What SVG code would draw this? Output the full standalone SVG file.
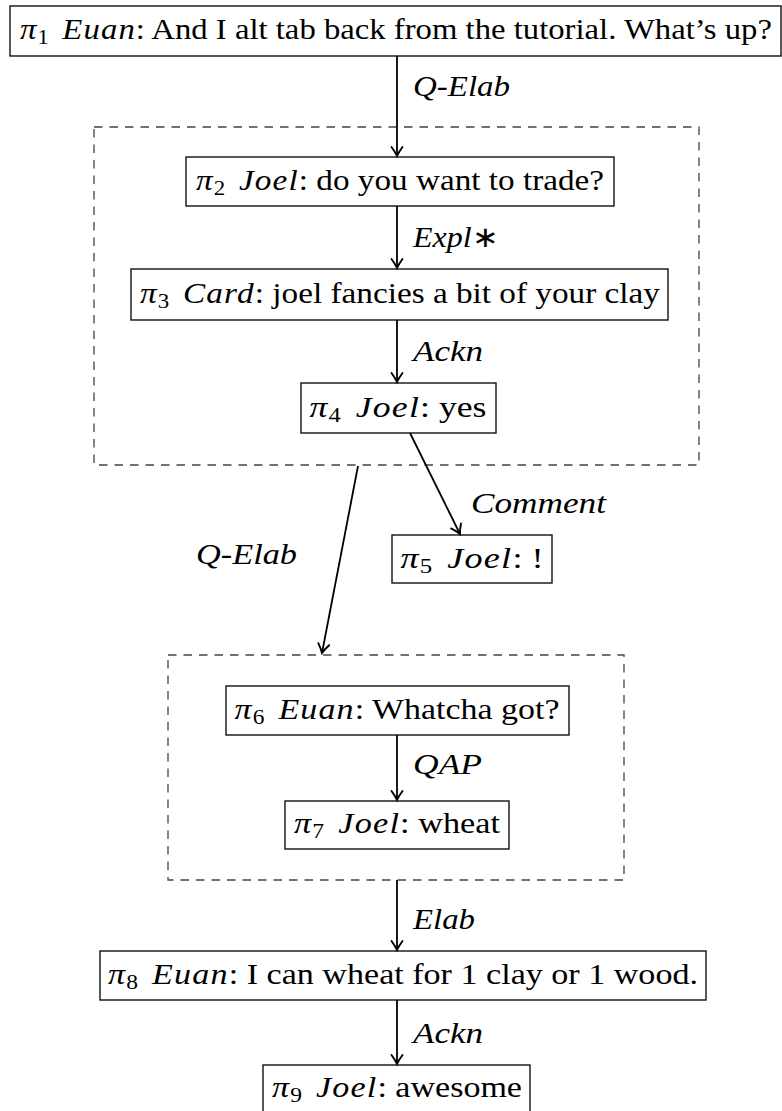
<svg xmlns="http://www.w3.org/2000/svg" width="782" height="1111" viewBox="0 0 782 1111">
  <style>
    .box { fill: #fff; stroke: #111; stroke-width: 1.4; }
    .group { fill: none; stroke: #444; stroke-width: 1.3; stroke-dasharray: 8.5 7; }
    .edge { fill: none; stroke: #000; stroke-width: 1.8; marker-end: url(#head); }
    text { font-family: "Liberation Serif", "Times New Roman", serif; font-size: 29px; fill: #000; }
    .m { font-style: italic; letter-spacing: 1px; }
    .sub { font-size: 20px; }
    .lbl { font-style: italic; }
    .up { font-style: normal; }
  </style>
  <defs>
    <marker id="head" markerUnits="userSpaceOnUse" markerWidth="16" markerHeight="16" refX="0" refY="0" viewBox="-11 -8 13 16" orient="auto">
      <path d="M-9,-5.5 Q-3.5,-1.5 0,0 Q-3.5,1.5 -9,5.5" fill="none" stroke="#000" stroke-width="1.9" stroke-linecap="round"/>
    </marker>
  </defs>

  <!-- discourse units -->
  <g id="n1">
    <rect class="box" x="10" y="6" width="771" height="50"/>
    <text x="396" y="39" text-anchor="middle" textLength="752" lengthAdjust="spacingAndGlyphs"><tspan class="m">π</tspan><tspan class="sub" dy="5">1</tspan><tspan class="m" dy="-5" dx="12">Euan</tspan>: And I alt tab back from the tutorial. What’s up?</text>
  </g>

  <g id="n2">
    <rect class="box" x="186" y="157" width="428" height="49"/>
    <text x="400" y="190" text-anchor="middle" textLength="408" lengthAdjust="spacingAndGlyphs"><tspan class="m">π</tspan><tspan class="sub" dy="5">2</tspan><tspan class="m" dy="-5" dx="12">Joel</tspan>: do you want to trade?</text>
  </g>

  <g id="n3">
    <rect class="box" x="131" y="269" width="537" height="51"/>
    <text x="400" y="303" text-anchor="middle" textLength="520" lengthAdjust="spacingAndGlyphs"><tspan class="m">π</tspan><tspan class="sub" dy="5">3</tspan><tspan class="m" dy="-5" dx="12">Card</tspan>: joel fancies a bit of your clay</text>
  </g>

  <g id="n4">
    <rect class="box" x="301" y="383" width="195" height="50"/>
    <text x="398" y="417" text-anchor="middle" textLength="177" lengthAdjust="spacingAndGlyphs"><tspan class="m">π</tspan><tspan class="sub" dy="5">4</tspan><tspan class="m" dy="-5" dx="12">Joel</tspan>: yes</text>
  </g>

  <g id="n5">
    <rect class="box" x="392" y="535" width="160" height="48"/>
    <text x="472" y="568" text-anchor="middle" textLength="143" lengthAdjust="spacingAndGlyphs"><tspan class="m">π</tspan><tspan class="sub" dy="5">5</tspan><tspan class="m" dy="-5" dx="12">Joel</tspan>: !</text>
  </g>

  <g id="n6">
    <rect class="box" x="226" y="686" width="343" height="49"/>
    <text x="397" y="719" text-anchor="middle" textLength="325" lengthAdjust="spacingAndGlyphs"><tspan class="m">π</tspan><tspan class="sub" dy="5">6</tspan><tspan class="m" dy="-5" dx="12">Euan</tspan>: Whatcha got?</text>
  </g>

  <g id="n7">
    <rect class="box" x="285" y="801" width="224" height="48"/>
    <text x="397" y="833" text-anchor="middle" textLength="206" lengthAdjust="spacingAndGlyphs"><tspan class="m">π</tspan><tspan class="sub" dy="5">7</tspan><tspan class="m" dy="-5" dx="12">Joel</tspan>: wheat</text>
  </g>

  <g id="n8">
    <rect class="box" x="100" y="951" width="606" height="49"/>
    <text x="403" y="984" text-anchor="middle" textLength="590" lengthAdjust="spacingAndGlyphs"><tspan class="m">π</tspan><tspan class="sub" dy="5">8</tspan><tspan class="m" dy="-5" dx="12">Euan</tspan>: I can wheat for 1 clay or 1 wood.</text>
  </g>

  <g id="n9">
    <rect class="box" x="263" y="1065" width="267" height="50"/>
    <text x="397" y="1097" text-anchor="middle" textLength="250" lengthAdjust="spacingAndGlyphs"><tspan class="m">π</tspan><tspan class="sub" dy="5">9</tspan><tspan class="m" dy="-5" dx="12">Joel</tspan>: awesome</text>
  </g>

  <!-- complex discourse units -->
  <g id="cdu1">
    <rect class="group" x="94" y="127" width="605" height="338"/>
  </g>
  <g id="cdu2">
    <rect class="group" x="168" y="655" width="456" height="225"/>
  </g>

  <!-- relations -->
  <g id="edges">
    <line class="edge" x1="397" y1="56" x2="397" y2="156"/>
    <line class="edge" x1="397" y1="206" x2="397" y2="268"/>
    <line class="edge" x1="397" y1="320" x2="397" y2="382"/>
    <line class="edge" x1="410" y1="433" x2="460" y2="534"/>
    <line class="edge" x1="358" y1="466" x2="322" y2="653"/>
    <line class="edge" x1="397" y1="735" x2="397" y2="800"/>
    <line class="edge" x1="397" y1="880" x2="397" y2="950"/>
    <line class="edge" x1="397" y1="1000" x2="397" y2="1064"/>

    <text class="lbl" x="413" y="96" textLength="97" lengthAdjust="spacingAndGlyphs">Q<tspan class="up">-</tspan>Elab</text>
    <text class="lbl" x="413" y="247" textLength="85" lengthAdjust="spacingAndGlyphs">Expl<tspan class="up">∗</tspan></text>
    <text class="lbl" x="413" y="361" textLength="70" lengthAdjust="spacingAndGlyphs">Ackn</text>
    <text class="lbl" x="471" y="513" textLength="135" lengthAdjust="spacingAndGlyphs">Comment</text>
    <text class="lbl" x="196" y="564" textLength="101" lengthAdjust="spacingAndGlyphs">Q<tspan class="up">-</tspan>Elab</text>
    <text class="lbl" x="413" y="774" textLength="69" lengthAdjust="spacingAndGlyphs">QAP</text>
    <text class="lbl" x="413" y="929" textLength="62" lengthAdjust="spacingAndGlyphs">Elab</text>
    <text class="lbl" x="413" y="1043" textLength="70" lengthAdjust="spacingAndGlyphs">Ackn</text>
  </g>
</svg>
